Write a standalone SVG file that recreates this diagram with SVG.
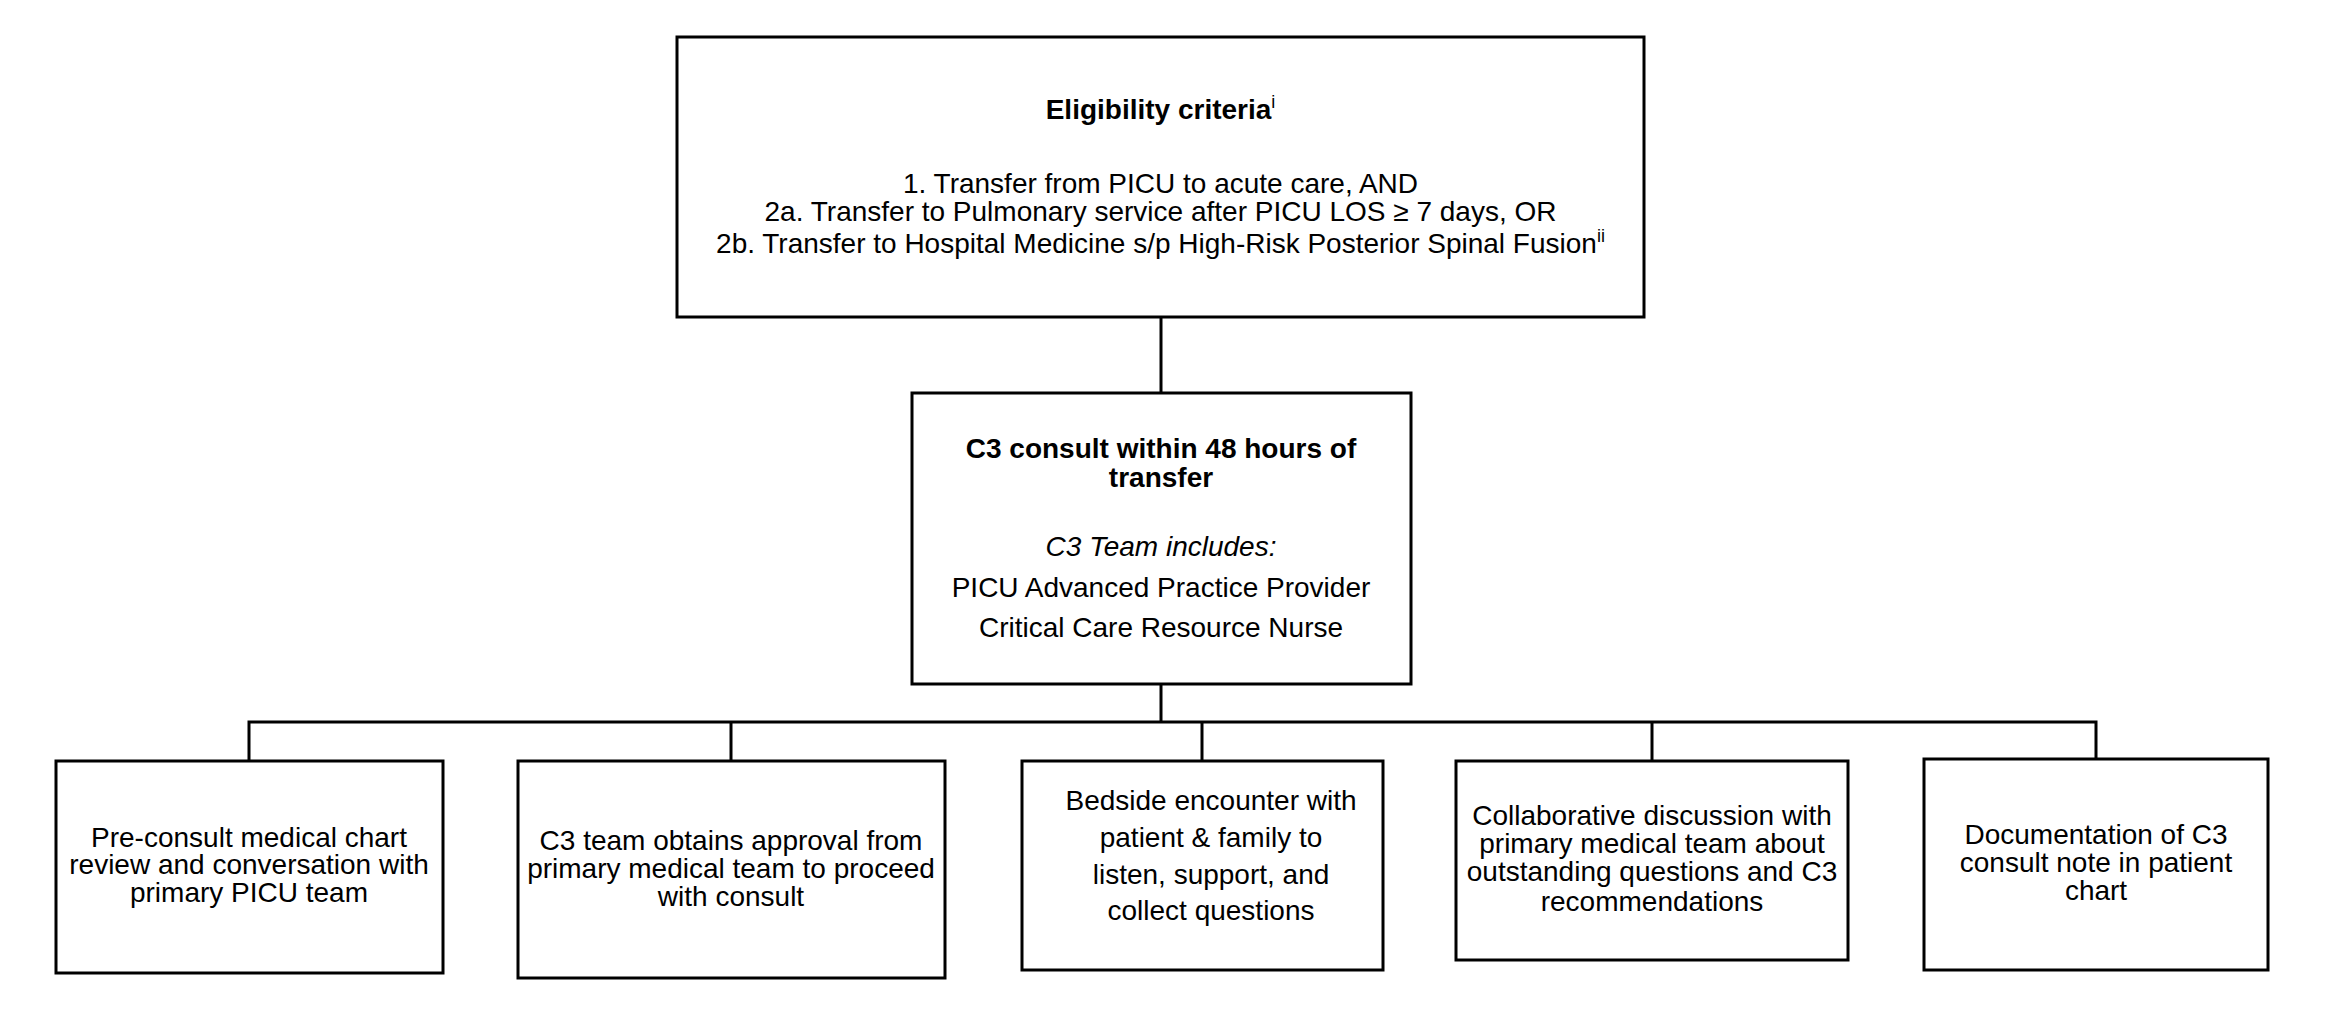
<svg xmlns="http://www.w3.org/2000/svg" width="2338" height="1030" viewBox="0 0 2338 1030">
<style>
.box{fill:#fff;stroke:#000;stroke-width:3}
.t{font-family:"Liberation Sans",Arial,sans-serif;font-size:28px;fill:#000;text-anchor:middle}
.b{font-weight:bold}
.i{font-style:italic}
.sup{font-size:18px}
.conn{fill:none;stroke:#000;stroke-width:3}
</style>
<rect width="2338" height="1030" fill="#fff"/>
<g id="connectors">
<line class="conn" x1="1161" y1="317" x2="1161" y2="393"/>
<line class="conn" x1="1161" y1="684" x2="1161" y2="722"/>
<polyline class="conn" points="249,761 249,722 2096,722 2096,759"/>
<line class="conn" x1="731" y1="722" x2="731" y2="761"/>
<line class="conn" x1="1202" y1="722" x2="1202" y2="761"/>
<line class="conn" x1="1652" y1="722" x2="1652" y2="761"/>
</g>
<g id="eligibility">
<rect class="box" x="677" y="37" width="967" height="280"/>
<text class="t b" x="1160.5" y="119">Eligibility criteria<tspan class="sup" font-weight="normal" dy="-11">i</tspan></text>
<text class="t" x="1160.5" y="193">1. Transfer from PICU to acute care, AND</text>
<text class="t" x="1160.5" y="221">2a. Transfer to Pulmonary service after PICU LOS ≥ 7 days, OR</text>
<text class="t" x="1160.5" y="253">2b. Transfer to Hospital Medicine s/p High-Risk Posterior Spinal Fusion<tspan class="sup" dy="-11">ii</tspan></text>
</g>
<g id="c3consult">
<rect class="box" x="912" y="393" width="499" height="291"/>
<text class="t b" x="1161" y="458">C3 consult within 48 hours of</text>
<text class="t b" x="1161" y="487">transfer</text>
<text class="t i" x="1161" y="556">C3 Team includes:</text>
<text class="t" x="1161" y="597">PICU Advanced Practice Provider</text>
<text class="t" x="1161" y="637">Critical Care Resource Nurse</text>
</g>
<g id="step1">
<rect class="box" x="56" y="761" width="387" height="212"/>
<text class="t" x="249" y="847">Pre-consult medical chart</text>
<text class="t" x="249" y="874">review and conversation with</text>
<text class="t" x="249" y="902">primary PICU team</text>
</g>
<g id="step2">
<rect class="box" x="518" y="761" width="427" height="217"/>
<text class="t" x="731" y="850">C3 team obtains approval from</text>
<text class="t" x="731" y="878">primary medical team to proceed</text>
<text class="t" x="731" y="906">with consult</text>
</g>
<g id="step3">
<rect class="box" x="1022" y="761" width="361" height="209"/>
<text class="t" x="1211" y="810">Bedside encounter with</text>
<text class="t" x="1211" y="847">patient &amp; family to</text>
<text class="t" x="1211" y="884">listen, support, and</text>
<text class="t" x="1211" y="920">collect questions</text>
</g>
<g id="step4">
<rect class="box" x="1456" y="761" width="392" height="199"/>
<text class="t" x="1652" y="825">Collaborative discussion with</text>
<text class="t" x="1652" y="853">primary medical team about</text>
<text class="t" x="1652" y="881">outstanding questions and C3</text>
<text class="t" x="1652" y="911">recommendations</text>
</g>
<g id="step5">
<rect class="box" x="1924" y="759" width="344" height="211"/>
<text class="t" x="2096" y="844">Documentation of C3</text>
<text class="t" x="2096" y="872">consult note in patient</text>
<text class="t" x="2096" y="900">chart</text>
</g>
</svg>
